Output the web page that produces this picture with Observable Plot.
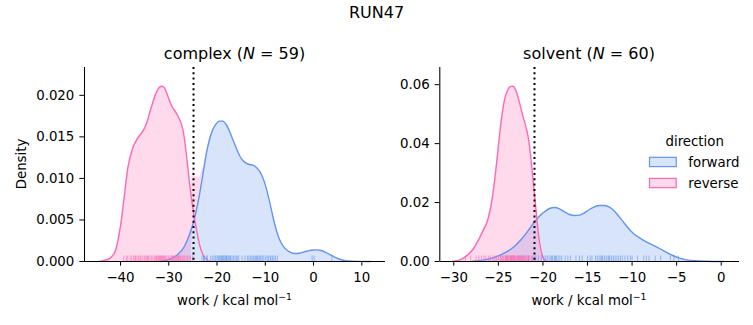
<!DOCTYPE html>
<html><head><meta charset="utf-8">
<script src="https://cdn.jsdelivr.net/npm/d3@7"></script>
<script src="https://cdn.jsdelivr.net/npm/@observablehq/plot@0.6"></script>
<style>
body{margin:0;background:#fff;}
#c{position:relative;width:753px;height:325px;overflow:hidden;font-family:"DejaVu Sans",sans-serif;}
#c > svg{position:absolute;top:0;}
</style></head><body><div id="c"></div><script>
// ---- data ----
const directions = ["forward", "reverse"];
const colors = ["#6495ED", "#FF69B4"];
const vlineComplex = -24.87;
const vlineSolvent = -20.95;

// complex: KDE curves (work, density)
const complexForwardX = [-31.57,-29.50,-28.12,-26.74,-25.70,-25.01,-24.32,-23.63,-22.94,-22.25,-21.56,-20.87,-20.18,-19.49,-18.80,-18.11,-17.41,-16.72,-16.03,-15.34,-14.65,-13.96,-13.27,-12.58,-11.89,-11.20,-10.51,-9.82,-9.13,-8.44,-7.75,-7.05,-6.02,-4.98,-3.95,-2.91,-1.87,-0.49,0.54,1.58,2.62,3.65,5.03,6.41,7.79,9.87,11.8];
const complexForwardD = [0,0.00036,0.00084,0.00184,0.00325,0.00445,0.00606,0.00806,0.01047,0.01287,0.01468,0.01588,0.01657,0.01689,0.01689,0.01649,0.01568,0.01468,0.01368,0.01276,0.01216,0.01183,0.01167,0.01159,0.01135,0.01087,0.01007,0.00886,0.00726,0.00545,0.00385,0.00265,0.00164,0.00116,0.00096,0.00100,0.00116,0.00136,0.00140,0.00132,0.00108,0.00076,0.00036,0.00012,0.00004,0.00001,0];
const complexReverseX = [-44.35,-42.63,-41.24,-40.55,-39.86,-39.17,-38.48,-37.45,-36.41,-35.37,-34.68,-33.65,-32.61,-31.92,-31.44,-30.88,-30.19,-29.36,-28.47,-27.78,-27.08,-26.60,-26.05,-25.50,-25.01,-24.32,-23.63,-22.94,-21.90,-21.21];
const complexReverseD = [0.00002,0.00024,0.00104,0.00245,0.00485,0.00806,0.01127,0.01368,0.01488,0.01568,0.01649,0.01849,0.02030,0.02098,0.02110,0.02090,0.01990,0.01869,0.01789,0.01709,0.01589,0.01408,0.01127,0.00846,0.00646,0.00405,0.00205,0.00084,0.00012,0];

// solvent: KDE curves (work, density)
const solventForwardX = [-27.86,-26.74,-25.62,-24.50,-23.38,-22.44,-21.69,-20.95,-20.39,-19.82,-19.26,-18.70,-18.14,-17.58,-17.02,-16.46,-15.90,-15.34,-14.78,-14.21,-13.65,-13.09,-12.53,-11.97,-11.41,-10.85,-10.29,-9.73,-9.16,-8.41,-7.67,-6.92,-6.17,-5.43,-4.68,-3.93,-2.81,-1.69,-0.56,0.3];
const solventForwardD = [0.00011,0.00045,0.00124,0.00260,0.00464,0.00747,0.01029,0.01346,0.01538,0.01686,0.01799,0.01833,0.01787,0.01686,0.01595,0.01561,0.01572,0.01652,0.01765,0.01855,0.01900,0.01900,0.01844,0.01708,0.01505,0.01290,0.01086,0.00916,0.00803,0.00667,0.00554,0.00441,0.00317,0.00204,0.00113,0.00057,0.00023,0.00011,0.00002,0];
const solventReverseX = [-30.11,-29.36,-28.61,-27.86,-27.30,-26.74,-26.18,-25.81,-25.43,-25.06,-24.69,-24.31,-23.94,-23.56,-23.30,-23.00,-22.63,-22.25,-21.88,-21.58,-21.32,-21.06,-20.76,-20.50,-20.20,-19.94,-19.56];
const solventReverseD = [0.00011,0.00045,0.00181,0.00407,0.00690,0.01029,0.01425,0.01923,0.02715,0.03733,0.04751,0.05486,0.05826,0.05950,0.05939,0.05781,0.05385,0.04932,0.04536,0.04084,0.03405,0.02613,0.01708,0.00916,0.00350,0.00102,0];

// rug: individual work values
const complexForwardWork = [-23.1,-22.8,-22.6,-22.2,-22.0,-21.3,-20.6,-20.3,-20.0,-19.8,-19.6,-19.4,-19.2,-19.0,-18.9,-18.7,-18.5,-18.3,-18.1,-17.9,-17.6,-17.4,-17.2,-16.9,-16.6,-16.3,-16.0,-15.8,-15.5,-14.8,-14.2,-13.4,-13.1,-12.8,-12.5,-12.3,-12.0,-11.8,-11.6,-11.3,-11.1,-10.9,-10.6,-10.3,-9.9,-9.6,-9.3,-9.0,-8.8,-8.5,-8.2,-7.9,-7.5,-0.3,0.1,3.8,-20.9,-18.0,-13.7];
const complexReverseWork = [-39.3,-38.8,-38.5,-38.0,-37.7,-37.3,-37.0,-36.6,-36.3,-36.0,-35.8,-35.5,-35.1,-34.9,-34.6,-34.2,-33.9,-33.6,-33.3,-33.0,-32.8,-32.5,-32.3,-32.1,-31.9,-31.7,-31.5,-31.3,-31.2,-31.0,-30.7,-30.4,-30.1,-29.8,-29.5,-29.2,-29.0,-28.8,-28.6,-28.4,-28.2,-28.0,-27.7,-27.5,-27.2,-27.0,-26.7,-26.4,-26.1,-25.8,-25.5,-25.1,-36.9,-34.4,-32.6,-31.8,-30.9,-29.4,-27.9];
const solventForwardWork = [-22.7,-22.1,-21.6,-21.2,-20.8,-20.5,-20.2,-19.9,-19.7,-19.5,-19.3,-19.1,-18.9,-18.7,-18.5,-18.3,-18.1,-17.9,-17.5,-16.9,-16.3,-15.6,-15.0,-14.5,-14.1,-13.9,-13.7,-13.5,-13.3,-13.1,-12.9,-12.7,-12.5,-12.3,-12.1,-11.9,-11.7,-11.5,-11.3,-11.1,-10.8,-10.5,-10.2,-9.4,-8.7,-8.4,-8.1,-6.8,-5.7,-5.3,-4.8,-18.6,-19.0,-13.4,-12.6,-17.2,-15.9,-14.7,-10.0,-7.4];
const solventReverseWork = [-28.7,-28.1,-27.5,-27.2,-26.9,-26.6,-26.4,-26.1,-25.9,-25.6,-25.4,-25.2,-25.0,-24.8,-24.7,-24.5,-24.4,-24.2,-24.1,-24.0,-23.9,-23.8,-23.7,-23.6,-23.5,-23.4,-23.3,-23.2,-23.1,-23.0,-22.9,-22.8,-22.7,-22.6,-22.5,-22.4,-22.3,-22.2,-22.1,-22.0,-21.9,-21.8,-21.6,-21.5,-21.3,-21.1,-20.9,-23.45,-23.65,-23.25,-24.25,-22.85,-23.95,-22.55,-24.6,-23.15,-22.35,-21.7,-23.55,-24.05];

const complexXTicks = [-40,-30,-20,-10,0,10];
const complexYTicks = [0,0.005,0.010,0.015,0.020];
const solventXTicks = [-30,-25,-20,-15,-10,-5,0];
const solventYTicks = [0,0.02,0.04,0.06];

// ---- drawing ----
const H = 325, MT = 67, MB = 64, FRAME_H = H - MT - MB;
const curve = (xs, ds, dir) => xs.map((x, i) => ({work: x, density: ds[i], direction: dir}));
const rug = (ws, dir) => ws.map(w => ({work: w, direction: dir}));

function panel(o) {
  const dens = [...curve(o.fx, o.fd, "forward"), ...curve(o.rx, o.rd, "reverse")];
  const rugs = [...rug(o.fw, "forward"), ...rug(o.rw, "reverse")];
  return Plot.plot({
    width: o.width, height: H,
    marginLeft: o.ml, marginRight: o.mr, marginTop: MT, marginBottom: MB,
    style: {fontFamily: "DejaVu Sans, sans-serif", fontSize: "13.33px", color: "#000", background: "transparent", overflow: "visible"},
    x: {domain: o.xd, ticks: o.xt, tickFormat: d3.format("d"), tickSize: 4.67, tickPadding: 6.5, label: null},
    y: {domain: o.yd, ticks: o.yt, tickFormat: d3.format(o.yf), tickSize: 4.67, tickPadding: 5.5, label: null},
    color: {domain: directions, range: colors},
    marks: [
      Plot.areaY(dens, {x: "work", y: "density", z: "direction", fill: "direction", fillOpacity: 0.25, curve: "monotone-x"}),
      Plot.line(dens, {x: "work", y: "density", z: "direction", stroke: "direction", strokeWidth: 1.4, curve: "monotone-x"}),
      Plot.ruleX(rugs, {x: "work", stroke: "direction", strokeOpacity: 0.6, strokeWidth: 1, insetTop: FRAME_H - 5.5}),
      Plot.ruleX([o.vline], {stroke: "#000", strokeWidth: 2, strokeDasharray: "2,3.3"}),
      Plot.ruleX([o.xd[0]], {stroke: "#000", strokeWidth: 1.07}),
      Plot.ruleY([o.yd[0]], {stroke: "#000", strokeWidth: 1.07})
    ]
  });
}

const c = document.getElementById("c");
const left = panel({width: 400, ml: 84, mr: 15, xd: [-47.46, 14.91], yd: [0, 0.02335], xt: complexXTicks, yt: complexYTicks, yf: ".3f",
  fx: complexForwardX, fd: complexForwardD, rx: complexReverseX, rd: complexReverseD, fw: complexForwardWork, rw: complexReverseWork, vline: vlineComplex});
left.style.left = "0px";
c.appendChild(left);
const right = panel({width: 353, ml: 39.3, mr: 14, xd: [-31.57, 2.05], yd: [0, 0.06583], xt: solventXTicks, yt: solventYTicks, yf: ".2f",
  fx: solventForwardX, fd: solventForwardD, rx: solventReverseX, rd: solventReverseD, fw: solventForwardWork, rw: solventReverseWork, vline: vlineSolvent});
right.style.left = "400px";
c.appendChild(right);

// ---- titles, axis labels, legend ----
const NS = "http://www.w3.org/2000/svg";
const ov = document.createElementNS(NS, "svg");
ov.setAttribute("width", 753); ov.setAttribute("height", 325);
ov.style.left = "0px";
ov.setAttribute("font-family", "DejaVu Sans, sans-serif");
ov.innerHTML = `
<text x="376.5" y="18.3" font-size="16" text-anchor="middle">RUN47</text>
<text x="234.5" y="59" font-size="16" text-anchor="middle">complex (<tspan font-style="italic">N</tspan> = 59)</text>
<text x="589" y="59" font-size="16" text-anchor="middle">solvent (<tspan font-style="italic">N</tspan> = 60)</text>
<text x="234.5" y="305" font-size="13.33" text-anchor="middle">work / kcal mol<tspan font-size="9.3" dy="-5.5">−1</tspan></text>
<text x="589" y="305" font-size="13.33" text-anchor="middle">work / kcal mol<tspan font-size="9.3" dy="-5.5">−1</tspan></text>
<text transform="translate(26,164) rotate(-90)" font-size="13.33" text-anchor="middle">Density</text>
<text x="694.7" y="146" font-size="13.33" text-anchor="middle">direction</text>
<rect x="649.5" y="157.3" width="26.7" height="9.3" fill="${colors[0]}" fill-opacity="0.25" stroke="${colors[0]}" stroke-width="1.2"/>
<text x="688.3" y="166.5" font-size="13.33">${directions[0]}</text>
<rect x="649.5" y="178.4" width="26.7" height="9.3" fill="${colors[1]}" fill-opacity="0.25" stroke="${colors[1]}" stroke-width="1.2"/>
<text x="688.3" y="187.5" font-size="13.33">${directions[1]}</text>`;
c.appendChild(ov);
</script></body></html>
